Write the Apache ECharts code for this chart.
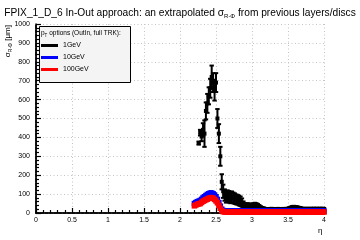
<!DOCTYPE html>
<html><head><meta charset="utf-8">
<script src="https://cdn.jsdelivr.net/npm/echarts@6/dist/echarts.min.js"></script>
<style>html,body{margin:0;padding:0;background:#fff}#c{width:360px;height:240px}</style>
</head><body><div id="c"></div>
<script>
const eta = [2.20,2.22,2.24,2.26,2.28,2.30,2.32,2.34,2.36,2.38,2.40,2.42,2.44,2.46,2.48,2.50,2.52,2.54,2.56,2.58,
2.60,2.62,2.64,2.66,2.68,2.70,2.72,2.74,2.76,2.78,2.80,2.82,2.84,2.86,2.88,2.90,2.92,2.94,2.96,2.98,
3.00,3.02,3.04,3.06,3.08,3.10,3.12,3.14,3.16,3.18,3.20,3.22,3.24,3.26,3.28,3.30,3.32,3.34,3.36,3.38,
3.40,3.42,3.44,3.46,3.48,3.50,3.52,3.54,3.56,3.58,3.60,3.62,3.64,3.66,3.68,3.70,3.72,3.74,3.76,3.78,
3.80,3.82,3.84,3.86,3.88,3.90,3.92,3.94,3.96,3.98,4.00];
const sigma1GeV = [null,null,null,370,425,405,440,420,540,580,620,660,720,690,650,690,500,420,300,165,
115,95,85,90,86,82,84,80,76,72,70,66,62,55,46,40,38,40,38,36,
38,40,42,40,37,32,27,24,22,20,19,18,19,20,20,19,18,19,20,19,
18,19,20,19,20,21,23,26,28,29,28,27,26,24,22,21,20,20,21,20,
20,21,20,21,20,21,20,21,20,21,20];
const err1GeV = [null,null,null,8,15,25,35,70,45,50,45,50,60,50,55,50,50,50,50,40,
35,30,30,30,30,30,30,28,28,26,26,26,25,22,15,12,12,12,12,11,
12,12,12,12,11,10,9,8,8,7,7,7,7,7,7,7,7,7,7,7,
7,7,7,7,7,7,8,8,9,9,9,9,8,8,8,7,7,7,7,7,
7,7,7,7,7,7,7,7,7,7,7];
const sigma10GeV = [50,55,60,62,66,72,80,86,92,98,102,105,105,102,95,86,72,55,36,20,
13,10,11,10,9,10,11,10,10,9,10,11,10,10,9,10,10,11,10,10,
9,10,10,11,10,10,9,10,10,11,10,10,9,10,10,11,10,10,9,10,
10,11,10,10,9,10,10,11,10,10,9,10,10,11,10,10,9,10,10,11,
10,10,9,10,10,11,10,10,9,10,10];
const err10GeV = [12,12,13,13,13,14,14,15,15,15,16,16,16,16,15,15,14,12,10,7,
5,3,3,3,3,3,3,3,3,3,3,3,3,3,3,3,3,3,3,3,
3,3,3,3,3,3,3,3,3,3,3,3,3,3,3,3,3,3,3,3,
3,3,3,3,3,3,3,3,3,3,3,3,3,3,3,3,3,3,3,3,
3,3,3,3,3,3,3,3,3,3,3];
const sigma100GeV = [38,42,46,48,50,56,62,66,70,74,77,80,80,78,72,64,54,40,25,12,
7,5,6,5,4,5,6,5,5,4,5,6,5,5,4,5,5,6,5,5,
4,5,5,6,5,5,4,5,5,6,5,5,4,5,5,6,5,5,4,5,
5,6,5,5,4,5,5,6,5,5,4,5,5,6,5,5,4,5,5,6,
5,5,4,5,5,6,5,5,4,5,5];
const err100GeV = [12,12,13,13,14,14,15,15,15,15,16,16,16,16,15,14,13,11,9,6,
4,2,2,2,2,2,2,2,2,2,2,2,2,2,2,2,2,2,2,2,
2,2,2,2,2,2,2,2,2,2,2,2,2,2,2,2,2,2,2,2,
2,2,2,2,2,2,2,2,2,2,2,2,2,2,2,2,2,2,2,2,
2,2,2,2,2,2,2,2,2,2,2];
const xTicks = [0,0.5,1,1.5,2,2.5,3,3.5,4];
const yTicks = [0,100,200,300,400,500,600,700,800,900,1000];

const FONT = '"Liberation Sans", Arial, sans-serif';
function build(vals, errs){
  const out = [];
  for (let i = 0; i < eta.length; i++) if (vals[i] != null) out.push([eta[i], vals[i], errs[i]]);
  return out;
}
function render(color, lw, cap, ms){
  return function(params, api){
    const x = api.value(0), y = api.value(1), e = api.value(2);
    const c = api.coord([x, y]);
    const t = api.coord([x, y + e]);
    const b = api.coord([x, Math.max(y - e, 0)]);
    const l = api.coord([x - 0.01, y]);
    const r = api.coord([x + 0.01, y]);
    const st = {stroke: color, lineWidth: lw};
    const ch = [
      {type:'line', shape:{x1:c[0], y1:t[1], x2:c[0], y2:b[1]}, style:st},
      {type:'line', shape:{x1:l[0], y1:c[1], x2:r[0], y2:c[1]}, style:st},
      {type:'rect', shape:{x:c[0]-ms/2, y:c[1]-ms/2, width:ms, height:ms}, style:{fill:color}}
    ];
    if (cap) {
      ch.push({type:'line', shape:{x1:c[0]-cap, y1:t[1], x2:c[0]+cap, y2:t[1]}, style:st});
      ch.push({type:'line', shape:{x1:c[0]-cap, y1:b[1], x2:c[0]+cap, y2:b[1]}, style:st});
    }
    return {type:'group', children: ch};
  };
}
const chart = echarts.init(document.getElementById('c'), null, {renderer:'canvas'});
const gridStyle = {show:true, lineStyle:{color:'#c4c4c4', type:[1,2.5], width:1}};
chart.setOption({
  animation:false,
  backgroundColor:'#fff',
  title:{
    text:'FPIX_1_D_6 In-Out approach: an extrapolated {s|σ}{sub|R-Φ} from previous layers/discs',
    left:'center', top:2,
    textStyle:{fontFamily:FONT, fontSize:10.2, fontWeight:'normal', color:'#000',
      rich:{s:{fontFamily:FONT, fontSize:10.2, color:'#000'}, sub:{fontFamily:FONT, fontSize:6, color:'#000', padding:[6,0,0,0]}}}
  },
  grid:{left:36, right:36, top:24, bottom:27},
  xAxis:[{
    type:'value', min:0, max:4, interval:0.5, position:'bottom',
    axisLine:{show:true, onZero:false, lineStyle:{color:'#000', width:1.5}},
    axisTick:{show:true, inside:true, length:5, lineStyle:{color:'#000', width:1.2}},
    minorTick:{show:true, splitNumber:5, length:3, lineStyle:{color:'#000', width:1.2}},
    axisLabel:{fontFamily:FONT, fontSize:7, color:'#000', margin:4,
      formatter:v => xTicks.indexOf(v) >= 0 ? String(v) : ''},
    splitLine:gridStyle
  },{
    type:'value', min:0, max:4, position:'top',
    axisLine:{show:true, lineStyle:{color:'#000', width:1.5, type:[3,1.5]}},
    axisTick:{show:false}, axisLabel:{show:false}, splitLine:{show:false}
  }],
  yAxis:[{
    type:'value', min:0, max:1000, interval:100, position:'left',
    axisLine:{show:true, onZero:false, lineStyle:{color:'#000', width:1.5}},
    axisTick:{show:true, inside:true, length:5, lineStyle:{color:'#000', width:1.2}},
    minorTick:{show:true, splitNumber:5, length:3, lineStyle:{color:'#000', width:1.2}},
    axisLabel:{fontFamily:FONT, fontSize:7, color:'#000', margin:6,
      formatter:v => yTicks.indexOf(v) >= 0 ? String(v) : ''},
    splitLine:gridStyle
  },{
    type:'value', min:0, max:1000, position:'right',
    axisLine:{show:true, lineStyle:{color:'#000', width:1.5, type:[3,1.5]}},
    axisTick:{show:false}, axisLabel:{show:false}, splitLine:{show:false}
  }],
  legend:{
    orient:'vertical', left:41, top:42, itemGap:5, itemWidth:17, itemHeight:3, icon:'rect',
    z:20, padding:0,
    textStyle:{fontFamily:FONT, fontSize:7, color:'#000', padding:[0,0,0,0]},
    data:['1GeV','10GeV','100GeV']
  },
  graphic:[
    {type:'rect', left:39, top:26, z:15, shape:{width:91, height:56},
      style:{fill:'#f4f4f4', stroke:'#000', lineWidth:1}},
    {type:'text', left:41, top:30, z:16,
      style:{text:'p{sub|T} options (OutIn, full TRK):', fontFamily:FONT, fontSize:6.5, fill:'#000',
        rich:{sub:{fontFamily:FONT, fontSize:4.5, fill:'#000', padding:[4,0,0,0]}}}},
    {type:'text', x:8, y:25, rotation:Math.PI/2, z:16,
      style:{text:'{s|σ}{sub|R-Φ} [μm]', fontFamily:FONT, fontSize:8, fill:'#000', align:'right', verticalAlign:'middle',
        rich:{s:{fontFamily:FONT, fontSize:8, fill:'#000'}, sub:{fontFamily:FONT, fontSize:5, fill:'#000', padding:[5,0,0,0]}}}},
    {type:'text', x:318, y:227, z:16,
      style:{text:'η', fontFamily:FONT, fontSize:8, fill:'#000'}}
  ],
  series:[
    {name:'1GeV', type:'custom', renderItem:render('#000', 2, 2.2, 4), itemStyle:{color:'#000'},
      data:build(sigma1GeV, err1GeV), encode:{x:0, y:1}, z:3},
    {name:'10GeV', type:'custom', renderItem:render('#0000ff', 2.5, 0, 5.5), itemStyle:{color:'#0000ff'},
      data:build(sigma10GeV, err10GeV), encode:{x:0, y:1}, z:4},
    {name:'100GeV', type:'custom', renderItem:render('#ff0000', 2.5, 0, 5.5), itemStyle:{color:'#ff0000'},
      data:build(sigma100GeV, err100GeV), encode:{x:0, y:1}, z:5}
  ]
});
</script></body></html>
